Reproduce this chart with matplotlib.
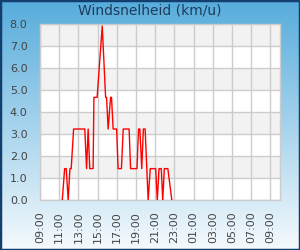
import numpy as np
import matplotlib.pyplot as plt
import matplotlib.dates as mdates
from matplotlib.patches import Rectangle
from datetime import datetime, timedelta

# ---- data ----
tijden = ["11:19", "11:34", "11:44", "11:56", "12:07", "12:15", "12:30", "13:40",
          "13:51", "14:01", "14:11", "14:32", "14:37", "14:57", "15:29", "15:50",
          "15:56", "16:06", "16:21", "16:27", "16:37", "16:59", "17:08", "17:29",
          "17:40", "18:17", "18:26", "19:06", "19:16", "19:24", "19:36", "19:46",
          "19:57", "20:16", "20:29", "21:03", "21:13", "21:24", "21:38", "21:47",
          "21:57", "22:19", "22:44"]
wind = [0.0, 1.44, 1.44, 0.0, 1.44, 1.44, 3.24, 3.24,
        1.44, 3.24, 1.44, 1.44, 4.68, 4.68, 7.92, 4.68,
        4.68, 3.24, 4.68, 4.68, 3.24, 3.24, 1.44, 1.44,
        3.24, 3.24, 1.44, 1.44, 3.24, 3.24, 1.44, 3.24,
        3.24, 0.0, 1.44, 1.44, 0.0, 1.44, 1.44, 0.0,
        1.44, 1.44, 0.0]

dag = datetime(2024, 6, 1)
xs = [dag + timedelta(hours=int(t[:2]), minutes=int(t[3:])) for t in tijden]
x_start = dag + timedelta(hours=9)
x_end = dag + timedelta(hours=34)

# ---- figure ----
fig = plt.figure(figsize=(3, 2.5), dpi=100)

# achtergrond met verloop
bg = fig.add_axes([0, 0, 1, 1], zorder=0)
top = np.array([86, 172, 220]) / 255
bot = np.array([245, 250, 253]) / 255
f = np.linspace(0, 1, 250)[:, None]
grad = top * (1 - f) + bot * f
bg.imshow(grad[:, None, :], aspect='auto', extent=[0, 1, 0, 1])
bg.set_axis_off()
fig.patches.append(Rectangle((0, 0), 1, 1, transform=fig.transFigure,
                             fill=False, ec='#123f6e', lw=2.5, zorder=10))

ax = fig.add_axes([40 / 300, 1 - 200.3 / 250, 240 / 300, 176 / 250], zorder=1)
ax.set_facecolor('white')
for lo in (1, 3, 5, 7):
    ax.axhspan(lo, lo + 1, color='#f2f2f2', lw=0, zorder=0)

ax.plot(xs, wind, color='red', lw=1.0, zorder=3)

ax.set_xlim(x_start, x_end)
ax.set_ylim(0, 8)
ax.set_yticks(np.arange(0, 9, 1))
ax.yaxis.set_major_formatter(plt.FormatStrFormatter('%.1f'))
ax.xaxis.set_major_locator(mdates.HourLocator(byhour=range(1, 24, 2)))
ax.xaxis.set_major_formatter(mdates.DateFormatter('%H:%M'))
ax.grid(True, color='#cccccc', lw=1.0, zorder=1)
ax.set_axisbelow(True)
for s in ax.spines.values():
    s.set_color('#cccccc')
    s.set_linewidth(1.0)
ax.tick_params(length=0, labelsize=8, colors='#444444')
ax.tick_params(axis='y', pad=9)
ax.tick_params(axis='x', pad=8)
for lbl in ax.get_xticklabels():
    lbl.set_rotation(90)

fig.text(0.5, 1 - 11 / 250, "Windsnelheid (km/u)", ha='center', va='center',
         fontsize=10, color='#1e3c5a')

fig.savefig("out.png", dpi=100)
